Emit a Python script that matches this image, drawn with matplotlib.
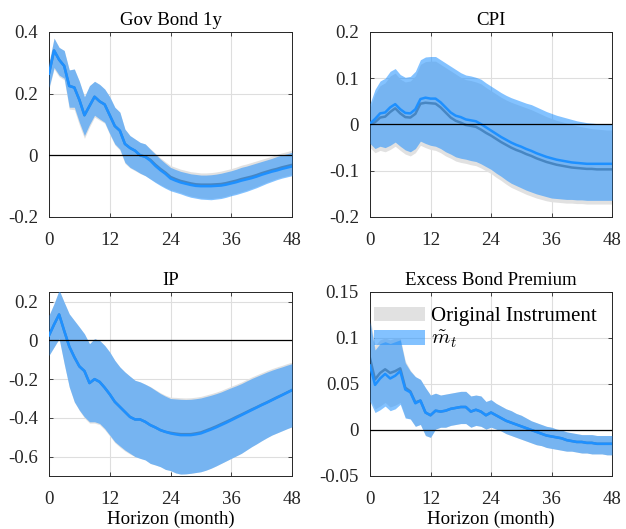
import matplotlib
matplotlib.use('Agg')
import matplotlib.pyplot as plt
from matplotlib.patches import Patch
from matplotlib.ticker import FormatStrFormatter

plt.rcParams['font.family'] = ['Liberation Serif', 'DejaVu Serif']
plt.rcParams['mathtext.fontset'] = 'cm'
plt.rcParams['axes.unicode_minus'] = False

# horizon 0..48 months
horizon = list(range(49))

# Gov Bond 1y
gov_blue = [0.265, 0.34, 0.31, 0.29, 0.225, 0.22, 0.18, 0.13, 0.16, 0.19, 0.175, 0.165, 0.13, 0.095, 0.08, 0.037, 0.024, 0.015, 0.0, -0.005, -0.017, -0.034, -0.048, -0.06, -0.075,
            -0.082, -0.088, -0.092, -0.096, -0.099, -0.100, -0.100, -0.100, -0.099, -0.098, -0.095, -0.091, -0.087, -0.082, -0.078, -0.074, -0.069, -0.063, -0.058, -0.053, -0.049, -0.044, -0.040, -0.036]
gov_blue_hi = [0.30, 0.38, 0.35, 0.34, 0.277, 0.28, 0.24, 0.19, 0.226, 0.24, 0.23, 0.215, 0.19, 0.156, 0.14, 0.085, 0.064, 0.053, 0.042, 0.037, 0.02, 0.004, -0.012, -0.026, -0.039,
               -0.046, -0.052, -0.056, -0.06, -0.062, -0.064, -0.064, -0.063, -0.061, -0.058, -0.054, -0.05, -0.045, -0.039, -0.035, -0.03, -0.025, -0.02, -0.015, -0.01, -0.004, 0.001, 0.005, 0.01]
gov_blue_lo = [0.22, 0.285, 0.26, 0.25, 0.156, 0.156, 0.107, 0.064, 0.10, 0.13, 0.118, 0.107, 0.07, 0.037, 0.02, -0.023, -0.039, -0.048, -0.058, -0.066, -0.077, -0.088, -0.098, -0.107, -0.115,
               -0.12, -0.125, -0.131, -0.136, -0.139, -0.142, -0.143, -0.144, -0.142, -0.14, -0.136, -0.131, -0.127, -0.122, -0.117, -0.111, -0.105, -0.098, -0.091, -0.085, -0.079, -0.074, -0.07, -0.066]
gov_grey = [0.265, 0.34, 0.31, 0.29, 0.225, 0.22, 0.18, 0.13, 0.16, 0.19, 0.175, 0.165, 0.13, 0.095, 0.08, 0.037, 0.024, 0.015, 0.0, -0.004, -0.014, -0.030, -0.044, -0.056, -0.070,
            -0.077, -0.083, -0.087, -0.091, -0.094, -0.095, -0.095, -0.095, -0.094, -0.093, -0.090, -0.086, -0.082, -0.077, -0.073, -0.069, -0.064, -0.058, -0.053, -0.048, -0.044, -0.039, -0.035, -0.031]
gov_grey_hi = [0.30, 0.38, 0.35, 0.34, 0.277, 0.28, 0.24, 0.19, 0.226, 0.24, 0.23, 0.215, 0.19, 0.156, 0.14, 0.085, 0.064, 0.053, 0.042, 0.037, 0.022, 0.007, -0.008, -0.021, -0.033,
               -0.039, -0.045, -0.049, -0.053, -0.055, -0.057, -0.057, -0.056, -0.054, -0.051, -0.047, -0.043, -0.038, -0.032, -0.028, -0.023, -0.018, -0.013, -0.008, -0.003, 0.003, 0.008, 0.012, 0.017]
gov_grey_lo = [0.215, 0.28, 0.255, 0.245, 0.15, 0.148, 0.098, 0.055, 0.092, 0.124, 0.114, 0.104, 0.067, 0.034, 0.017, -0.026, -0.041, -0.050, -0.059, -0.066, -0.076, -0.086, -0.095, -0.104, -0.111,
               -0.116, -0.121, -0.127, -0.132, -0.135, -0.138, -0.139, -0.140, -0.138, -0.136, -0.132, -0.127, -0.123, -0.118, -0.113, -0.107, -0.101, -0.094, -0.087, -0.081, -0.075, -0.070, -0.066, -0.062]

# CPI
cpi_blue = [0.002, 0.012, 0.024, 0.026, 0.037, 0.044, 0.033, 0.025, 0.024, 0.033, 0.055, 0.058, 0.056, 0.056, 0.048, 0.037, 0.026, 0.019, 0.016, 0.011, 0.009, 0.007, 0.001, -0.006, -0.013,
            -0.020, -0.027, -0.033, -0.039, -0.044, -0.048, -0.053, -0.057, -0.062, -0.066, -0.070, -0.073, -0.076, -0.078, -0.080, -0.082, -0.083, -0.084, -0.085, -0.085, -0.085, -0.085, -0.085, -0.085]
cpi_blue_hi = [0.045, 0.076, 0.094, 0.10, 0.115, 0.121, 0.108, 0.102, 0.104, 0.115, 0.14, 0.146, 0.147, 0.147, 0.14, 0.133, 0.126, 0.119, 0.112, 0.107, 0.105, 0.102, 0.098, 0.09, 0.083,
               0.076, 0.069, 0.063, 0.058, 0.054, 0.05, 0.046, 0.043, 0.038, 0.033, 0.028, 0.024, 0.020, 0.017, 0.014, 0.011, 0.008, 0.006, 0.004, 0.003, 0.002, 0.001, 0.0, 0.0]
cpi_blue_lo = [-0.041, -0.052, -0.047, -0.05, -0.045, -0.038, -0.047, -0.055, -0.059, -0.052, -0.036, -0.041, -0.045, -0.047, -0.052, -0.059, -0.064, -0.07, -0.073, -0.075, -0.078, -0.08, -0.085, -0.091, -0.097,
               -0.105, -0.112, -0.120, -0.127, -0.132, -0.137, -0.142, -0.146, -0.150, -0.153, -0.156, -0.159, -0.160, -0.161, -0.162, -0.162, -0.163, -0.163, -0.164, -0.164, -0.164, -0.164, -0.164, -0.164]
cpi_grey = [0.0, 0.005, 0.015, 0.017, 0.027, 0.035, 0.024, 0.016, 0.015, 0.023, 0.045, 0.047, 0.046, 0.045, 0.037, 0.026, 0.015, 0.008, 0.004, -0.001, -0.003, -0.005, -0.011, -0.018, -0.024,
            -0.031, -0.038, -0.044, -0.050, -0.055, -0.059, -0.064, -0.068, -0.073, -0.077, -0.081, -0.084, -0.087, -0.089, -0.091, -0.093, -0.094, -0.095, -0.096, -0.096, -0.097, -0.097, -0.097, -0.097]
cpi_grey_hi = [0.035, 0.066, 0.084, 0.09, 0.105, 0.111, 0.098, 0.092, 0.094, 0.105, 0.13, 0.136, 0.137, 0.137, 0.13, 0.123, 0.116, 0.109, 0.102, 0.097, 0.095, 0.092, 0.088, 0.08, 0.073,
               0.066, 0.059, 0.053, 0.048, 0.044, 0.040, 0.036, 0.032, 0.027, 0.022, 0.017, 0.013, 0.009, 0.006, 0.003, 0.0, -0.003, -0.005, -0.007, -0.009, -0.010, -0.011, -0.012, -0.012]
cpi_grey_lo = [-0.050, -0.061, -0.056, -0.059, -0.054, -0.047, -0.056, -0.064, -0.068, -0.061, -0.045, -0.050, -0.054, -0.056, -0.061, -0.068, -0.073, -0.079, -0.082, -0.084, -0.087, -0.089, -0.094, -0.100, -0.106,
               -0.114, -0.121, -0.129, -0.136, -0.141, -0.146, -0.151, -0.155, -0.159, -0.162, -0.165, -0.167, -0.168, -0.169, -0.170, -0.170, -0.171, -0.171, -0.172, -0.172, -0.172, -0.172, -0.172, -0.172]

# IP
ip_blue = [0.026, 0.082, 0.134, 0.05, -0.031, -0.086, -0.134, -0.158, -0.22, -0.2, -0.214, -0.244, -0.278, -0.317, -0.343, -0.369, -0.395, -0.408, -0.408, -0.42, -0.437, -0.449, -0.463, -0.472, -0.48,
           -0.485, -0.489, -0.489, -0.489, -0.485, -0.48, -0.470, -0.46, -0.449, -0.437, -0.425, -0.412, -0.399, -0.386, -0.373, -0.36, -0.347, -0.334, -0.322, -0.309, -0.296, -0.283, -0.270, -0.257]
ip_blue_hi = [0.13, 0.19, 0.26, 0.197, 0.137, 0.103, 0.069, 0.034, -0.017, 0.009, 0.0, -0.026, -0.06, -0.103, -0.137, -0.163, -0.185, -0.206, -0.214, -0.226, -0.24, -0.257, -0.274, -0.288, -0.3,
              -0.302, -0.304, -0.305, -0.304, -0.301, -0.297, -0.290, -0.283, -0.275, -0.266, -0.255, -0.244, -0.234, -0.223, -0.210, -0.197, -0.186, -0.175, -0.164, -0.154, -0.145, -0.137, -0.128, -0.12]
ip_blue_lo = [-0.077, -0.034, 0.009, -0.12, -0.24, -0.317, -0.36, -0.395, -0.42, -0.42, -0.429, -0.455, -0.489, -0.523, -0.545, -0.566, -0.583, -0.6, -0.609, -0.617, -0.635, -0.643, -0.652, -0.666, -0.672,
              -0.684, -0.69, -0.689, -0.686, -0.682, -0.678, -0.670, -0.66, -0.648, -0.635, -0.622, -0.609, -0.596, -0.583, -0.566, -0.549, -0.534, -0.518, -0.503, -0.489, -0.478, -0.467, -0.456, -0.446]
ip_grey = [0.026, 0.082, 0.134, 0.05, -0.031, -0.086, -0.134, -0.158, -0.22, -0.2, -0.214, -0.244, -0.278, -0.317, -0.343, -0.369, -0.395, -0.408, -0.408, -0.42, -0.437, -0.449, -0.463, -0.472, -0.477,
           -0.481, -0.484, -0.484, -0.484, -0.480, -0.475, -0.465, -0.455, -0.444, -0.432, -0.420, -0.408, -0.395, -0.383, -0.370, -0.357, -0.345, -0.332, -0.320, -0.307, -0.294, -0.282, -0.269, -0.256]
ip_grey_hi = [0.13, 0.19, 0.26, 0.197, 0.137, 0.103, 0.069, 0.034, -0.017, 0.009, 0.0, -0.026, -0.06, -0.103, -0.137, -0.163, -0.185, -0.206, -0.214, -0.226, -0.238, -0.254, -0.27, -0.283, -0.293,
              -0.294, -0.296, -0.297, -0.296, -0.293, -0.289, -0.282, -0.275, -0.267, -0.258, -0.247, -0.236, -0.226, -0.215, -0.202, -0.189, -0.178, -0.167, -0.156, -0.146, -0.137, -0.129, -0.120, -0.112]
ip_grey_lo = [-0.077, -0.034, 0.009, -0.12, -0.24, -0.317, -0.362, -0.401, -0.427, -0.427, -0.435, -0.461, -0.494, -0.528, -0.551, -0.571, -0.587, -0.6, -0.609, -0.617, -0.635, -0.643, -0.652, -0.666, -0.672,
              -0.684, -0.69, -0.689, -0.686, -0.682, -0.678, -0.670, -0.66, -0.648, -0.635, -0.622, -0.609, -0.596, -0.583, -0.566, -0.549, -0.534, -0.518, -0.503, -0.489, -0.478, -0.467, -0.456, -0.446]

# Excess Bond Premium
ebp_blue = [0.07, 0.049, 0.056, 0.061, 0.056, 0.059, 0.064, 0.044, 0.041, 0.029, 0.032, 0.019, 0.016, 0.021, 0.02, 0.021, 0.023, 0.024, 0.025, 0.025, 0.02, 0.022, 0.02, 0.016, 0.019,
            0.016, 0.013, 0.010, 0.008, 0.006, 0.004, 0.002, 0.0, -0.002, -0.004, -0.006, -0.007, -0.008, -0.009, -0.011, -0.012, -0.013, -0.013, -0.014, -0.014, -0.015, -0.015, -0.015, -0.015]
ebp_blue_hi = [0.118, 0.087, 0.094, 0.096, 0.094, 0.096, 0.098, 0.073, 0.064, 0.058, 0.055, 0.046, 0.038, 0.04, 0.038, 0.039, 0.04, 0.041, 0.042, 0.042, 0.037, 0.038, 0.037, 0.031, 0.033,
               0.029, 0.026, 0.023, 0.021, 0.018, 0.016, 0.013, 0.01, 0.008, 0.006, 0.004, 0.003, 0.001, 0.0, -0.002, -0.003, -0.004, -0.005, -0.005, -0.005, -0.006, -0.006, -0.006, -0.006]
ebp_blue_lo = [0.031, 0.019, 0.022, 0.026, 0.021, 0.023, 0.028, 0.013, 0.012, 0.004, 0.006, -0.006, -0.008, 0.001, 0.003, 0.003, 0.005, 0.006, 0.007, 0.007, 0.003, 0.005, 0.004, 0.001, 0.003,
               0.001, -0.001, -0.004, -0.006, -0.008, -0.01, -0.012, -0.014, -0.016, -0.017, -0.019, -0.02, -0.021, -0.022, -0.023, -0.023, -0.024, -0.025, -0.025, -0.026, -0.026, -0.026, -0.027, -0.027]
ebp_grey = [0.078, 0.055, 0.062, 0.066, 0.062, 0.064, 0.067, 0.046, 0.042, 0.03, 0.032, 0.019, 0.016, 0.021, 0.02, 0.021, 0.023, 0.024, 0.025, 0.025, 0.02, 0.022, 0.02, 0.016, 0.019,
            0.016, 0.013, 0.010, 0.008, 0.006, 0.004, 0.002, 0.0, -0.002, -0.004, -0.006, -0.007, -0.008, -0.009, -0.011, -0.012, -0.013, -0.013, -0.014, -0.014, -0.015, -0.015, -0.015, -0.015]
ebp_grey_hi = [0.122, 0.092, 0.098, 0.1, 0.098, 0.1, 0.1, 0.075, 0.065, 0.058, 0.055, 0.046, 0.038, 0.04, 0.038, 0.039, 0.04, 0.041, 0.042, 0.042, 0.037, 0.038, 0.037, 0.031, 0.033,
               0.029, 0.026, 0.023, 0.021, 0.018, 0.016, 0.013, 0.01, 0.008, 0.006, 0.004, 0.003, 0.001, 0.0, -0.002, -0.003, -0.004, -0.005, -0.005, -0.005, -0.006, -0.006, -0.006, -0.006]
ebp_grey_lo = [0.035, 0.023, 0.026, 0.03, 0.025, 0.027, 0.03, 0.014, 0.012, 0.004, 0.006, -0.006, -0.008, 0.001, 0.003, 0.003, 0.005, 0.006, 0.007, 0.007, 0.003, 0.005, 0.004, 0.001, 0.003,
               0.001, -0.001, -0.004, -0.006, -0.008, -0.01, -0.012, -0.014, -0.016, -0.017, -0.019, -0.02, -0.021, -0.022, -0.023, -0.023, -0.024, -0.025, -0.025, -0.026, -0.026, -0.026, -0.027, -0.027]

titles = ['Gov Bond 1y', 'CPI', 'IP', 'Excess Bond Premium']
xticks = [0, 12, 24, 36, 48]

GREY_BAND = '#e1e1e1'
GREY_LINE = '#7a7a7a'
BLUE = '#1e90ff'
BLUE_ALPHA = 0.55
FS = 13.6


def draw_panel(ax, title, blue, lo, hi, grey, glo, ghi, ylim, yticks):
    # original instrument underneath, then m_t on top
    ax.fill_between(horizon, glo, ghi, color=GREY_BAND, lw=0, zorder=1)
    ax.plot(horizon, grey, color=GREY_LINE, lw=1.8, zorder=2)
    ax.fill_between(horizon, lo, hi, color=BLUE, alpha=BLUE_ALPHA, lw=0, zorder=3)
    ax.plot(horizon, blue, color=BLUE, lw=1.8, zorder=4)
    ax.axhline(0, color='black', lw=0.9, zorder=5)

    ax.set_xlim(0, 48)
    ax.set_ylim(*ylim)
    ax.set_xticks(xticks)
    ax.set_yticks(yticks)
    ax.yaxis.set_major_formatter(FormatStrFormatter('%g'))
    ax.grid(True, color='#dedede', lw=0.8, zorder=0)
    ax.set_axisbelow(True)
    ax.tick_params(direction='in', top=True, right=True, length=3, width=0.6,
                   labelsize=FS, colors='#262626')
    ax.tick_params(axis='y', pad=8)
    ax.tick_params(axis='x', pad=11)
    for s in ax.spines.values():
        s.set_color('#262626')
        s.set_linewidth(0.7)
    ax.set_title(title, fontsize=FS, pad=5)


fig = plt.figure(figsize=(6.26, 5.29), dpi=100)
W, H = 626, 529
boxes = [(49, 32, 243, 185), (370, 32, 242, 185), (49, 292, 243, 184), (370, 292, 242, 184)]
axs = [fig.add_axes([x / W, 1 - (y + h) / H, w / W, h / H]) for x, y, w, h in boxes]

draw_panel(axs[0], titles[0], gov_blue, gov_blue_lo, gov_blue_hi, gov_grey, gov_grey_lo, gov_grey_hi,
           (-0.2, 0.4), [-0.2, 0, 0.2, 0.4])
draw_panel(axs[1], titles[1], cpi_blue, cpi_blue_lo, cpi_blue_hi, cpi_grey, cpi_grey_lo, cpi_grey_hi,
           (-0.2, 0.2), [-0.2, -0.1, 0, 0.1, 0.2])
draw_panel(axs[2], titles[2], ip_blue, ip_blue_lo, ip_blue_hi, ip_grey, ip_grey_lo, ip_grey_hi,
           (-0.7, 0.25), [-0.6, -0.4, -0.2, 0, 0.2])
draw_panel(axs[3], titles[3], ebp_blue, ebp_blue_lo, ebp_blue_hi, ebp_grey, ebp_grey_lo, ebp_grey_hi,
           (-0.05, 0.15), [-0.05, 0, 0.05, 0.1, 0.15])

for ax in axs[2:]:
    ax.set_xlabel('Horizon (month)', fontsize=FS, labelpad=2)

handles = [Patch(facecolor=GREY_BAND, edgecolor='none'),
           Patch(facecolor=BLUE, alpha=BLUE_ALPHA, edgecolor='none')]
axs[3].legend(handles, ['Original Instrument', r'$\tilde{m}_t$'], loc='upper left',
              bbox_to_anchor=(0.015, 0.92), frameon=False, fontsize=15,
              handlelength=2.45, handleheight=0.67, handletextpad=0.3,
              labelspacing=0.15, borderpad=0, borderaxespad=0)

fig.savefig('out.png', dpi=100, facecolor='white')
